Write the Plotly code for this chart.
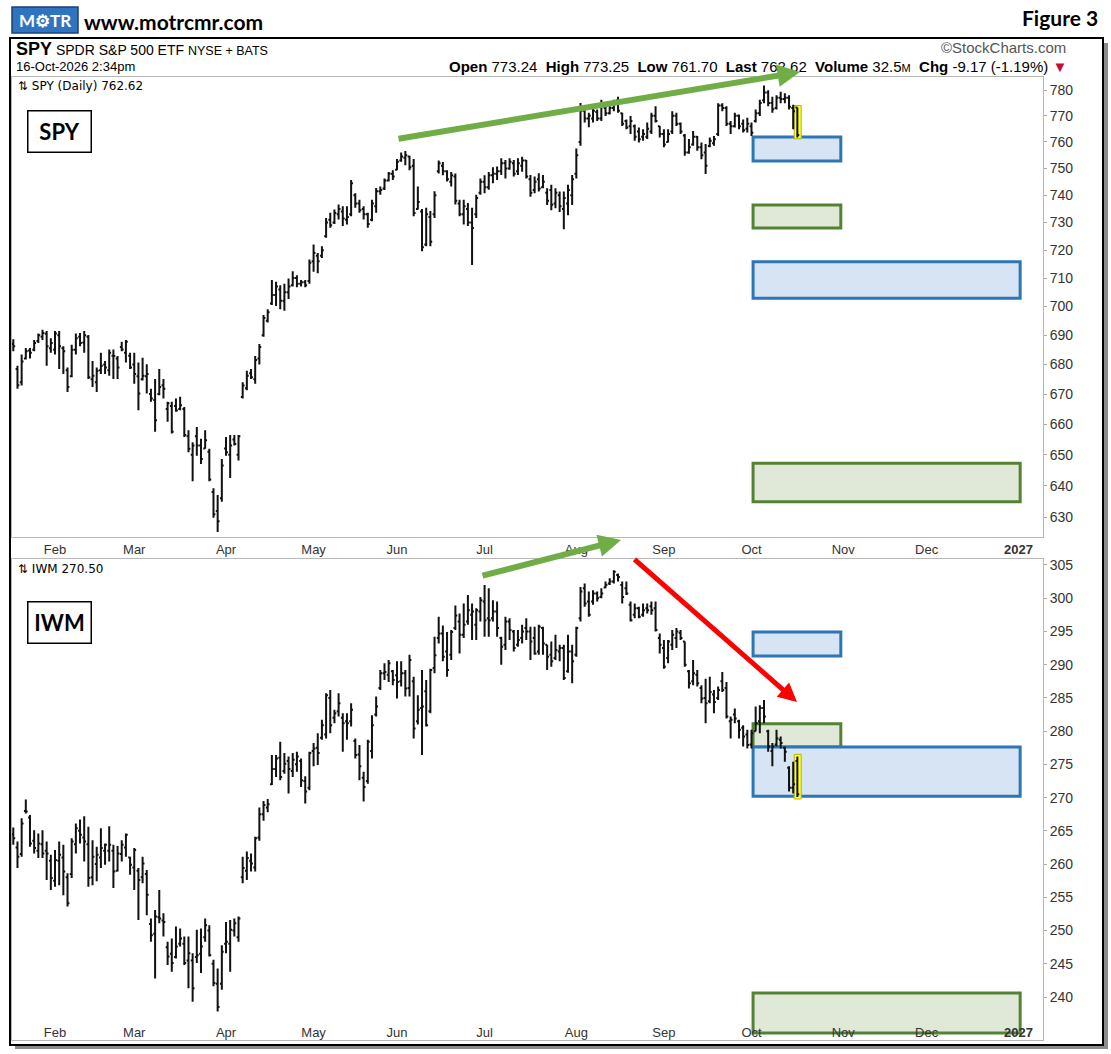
import numpy as np
import pandas as pd
import plotly.graph_objects as go

# ---------------- data ----------------
HOLIDAYS = ["2026-01-19", "2026-02-16", "2026-04-03", "2026-05-25", "2026-06-19",
            "2026-07-03", "2026-09-07", "2026-11-26", "2026-12-25", "2027-01-01"]
dates = pd.bdate_range("2026-01-16", "2026-10-16", freq="C", holidays=HOLIDAYS)

month_ticks = ["2026-02-02", "2026-03-02", "2026-04-01", "2026-05-01", "2026-06-01", "2026-07-01",
               "2026-08-03", "2026-09-01", "2026-10-01", "2026-11-02", "2026-12-01", "2027-01-04"]
month_labels = ["Feb", "Mar", "Apr", "May", "Jun", "Jul", "Aug", "Sep", "Oct", "Nov", "Dec", "<b>2027</b>"]

spy_ticks = [630, 640, 650, 660, 670, 680, 690, 700, 710, 720, 730, 740, 750, 760, 770, 780]
iwm_ticks = [240, 245, 250, 255, 260, 265, 270, 275, 280, 285, 290, 295, 300, 305]

spy_open = [687.0, 678.5, 674.0, 682.0, 684.8, 685.0, 688.0, 689.5, 690.5, 685.5,
 685.0, 690.0, 685.5, 678.0, 676.0, 685.0, 689.5, 687.5, 689.5, 675.0,
 674.0, 678.0, 680.0, 678.0, 683.0, 682.0, 686.0, 684.0, 683.0, 680.0,
 676.0, 675.0, 676.0, 670.0, 668.0, 670.0, 673.0, 665.0, 666.0, 666.0,
 665.0, 665.0, 656.0, 650.0, 656.0, 653.0, 652.0, 651.0, 638.0, 632.0,
 636.0, 652.0, 650.0, 655.0, 650.0, 669.0, 672.0, 677.0, 675.0, 682.0,
 690.0, 695.0, 701.0, 704.0, 706.0, 702.0, 705.0, 707.5, 710.0, 708.0,
 708.5, 709.0, 716.0, 718.0, 718.0, 725.0, 731.0, 730.0, 733.0, 734.0,
 731.0, 733.0, 740.0, 737.0, 735.0, 733.0, 731.0, 736.0, 741.5, 742.5,
 745.5, 748.0, 749.5, 753.0, 754.0, 754.5, 751.0, 735.0, 734.0, 722.0,
 732.0, 733.0, 749.0, 751.0, 749.0, 745.0, 747.0, 737.0, 733.0, 735.0,
 730.0, 733.0, 741.0, 745.0, 743.0, 747.5, 748.0, 749.0, 752.0, 750.0,
 752.0, 749.0, 751.0, 753.0, 746.0, 742.0, 746.0, 743.0, 741.0, 742.0,
 737.0, 740.0, 735.0, 737.0, 740.0, 748.0, 760.0, 772.0, 769.0, 769.0,
 771.5, 769.0, 773.0, 771.0, 773.0, 776.0, 771.0, 768.0, 766.0, 766.0,
 764.0, 762.0, 762.0, 764.0, 770.0, 766.0, 763.0, 760.0, 764.0, 770.0,
 767.0, 762.5, 756.0, 759.0, 762.0, 758.0, 756.0, 758.5, 759.5, 763.0,
 774.0, 773.0, 767.0, 766.0, 770.0, 767.0, 765.0, 766.0, 768.0, 771.0,
 776.0, 779.0, 775.0, 773.0, 777.0, 776.5, 777.0, 773.0, 773.24]

spy_high = [688.6, 679.6, 683.4, 685.6, 685.6, 688.4, 690.6, 691.9, 691.5, 689.0,
 691.5, 691.5, 686.2, 679.0, 686.7, 690.6, 690.8, 691.5, 690.1, 681.2,
 679.0, 684.0, 681.2, 685.1, 685.1, 682.9, 687.8, 688.4, 684.0, 684.0,
 680.7, 682.3, 680.1, 671.8, 675.1, 678.5, 675.1, 667.4, 667.4, 668.5,
 669.1, 665.7, 658.0, 654.1, 659.1, 655.2, 658.0, 651.9, 639.2, 637.0,
 648.6, 655.8, 656.4, 656.4, 656.4, 674.0, 677.9, 678.5, 682.9, 687.0,
 697.0, 699.0, 709.3, 708.7, 707.5, 708.0, 709.9, 712.4, 711.0, 709.3,
 709.3, 716.6, 722.0, 719.0, 721.4, 731.7, 733.6, 734.8, 736.6, 736.0,
 736.0, 745.7, 740.8, 738.4, 736.0, 733.6, 738.4, 742.7, 743.3, 746.3,
 748.7, 749.3, 753.6, 756.0, 756.6, 754.8, 753.6, 743.3, 735.0, 735.4,
 734.2, 741.5, 753.0, 752.4, 749.3, 748.7, 748.1, 738.4, 738.4, 737.2,
 735.4, 740.2, 746.3, 747.5, 748.7, 750.5, 750.7, 753.8, 753.2, 753.8,
 753.2, 753.8, 754.4, 753.2, 747.6, 747.0, 748.2, 747.6, 742.6, 743.9,
 742.6, 741.4, 741.4, 743.9, 747.6, 757.5, 775.0, 773.7, 771.2, 773.1,
 772.4, 776.2, 774.3, 774.9, 776.2, 777.4, 771.2, 768.6, 769.9, 766.7,
 765.5, 764.9, 767.4, 771.2, 773.7, 766.1, 764.9, 764.9, 771.8, 771.2,
 767.4, 763.0, 761.1, 764.2, 762.3, 759.8, 759.2, 761.7, 762.3, 774.9,
 774.9, 773.7, 768.0, 771.2, 770.5, 768.6, 769.3, 767.4, 772.4, 776.2,
 781.8, 779.9, 777.4, 778.0, 779.3, 778.7, 778.0, 774.3, 773.25]

spy_low = [684.5, 671.8, 672.9, 681.7, 682.0, 684.5, 687.3, 688.4, 679.6, 684.0,
 683.4, 678.5, 676.8, 670.7, 675.7, 683.4, 686.2, 684.0, 675.1, 672.4,
 670.7, 676.8, 676.8, 676.2, 675.1, 675.1, 684.5, 680.7, 678.5, 673.5,
 664.6, 674.6, 670.2, 667.4, 657.5, 669.6, 668.5, 660.8, 656.9, 664.1,
 664.6, 655.8, 650.8, 641.4, 649.7, 647.0, 651.9, 641.4, 629.8, 625.4,
 634.9, 649.7, 642.5, 653.0, 648.1, 668.5, 671.3, 675.1, 673.5, 680.0,
 689.5, 694.4, 700.5, 700.2, 699.0, 698.5, 702.6, 707.0, 706.8, 707.0,
 706.8, 708.0, 712.3, 711.7, 717.2, 724.5, 728.1, 729.5, 731.1, 728.7,
 729.3, 732.3, 735.4, 733.6, 731.1, 728.1, 730.5, 733.6, 740.2, 742.0,
 745.1, 745.7, 749.3, 752.5, 751.2, 749.3, 732.3, 734.8, 719.6, 721.4,
 721.4, 731.7, 748.1, 747.5, 745.1, 743.3, 736.6, 732.3, 729.3, 728.7,
 714.7, 731.7, 740.2, 740.8, 742.1, 744.5, 745.7, 747.6, 746.3, 749.5,
 747.0, 747.6, 748.8, 746.3, 739.5, 740.8, 741.4, 742.6, 736.4, 734.5,
 735.2, 733.9, 727.6, 732.7, 736.4, 746.3, 758.6, 767.4, 765.6, 767.4,
 768.0, 768.0, 769.9, 770.5, 771.8, 771.2, 766.1, 764.9, 763.0, 760.5,
 759.8, 760.5, 761.1, 763.0, 767.4, 761.7, 758.0, 759.8, 763.0, 766.1,
 763.0, 754.8, 755.5, 758.6, 756.7, 753.5, 747.9, 758.0, 758.6, 762.3,
 771.8, 766.1, 763.0, 765.5, 764.9, 763.6, 763.6, 762.3, 767.4, 769.9,
 774.9, 773.7, 771.2, 772.4, 774.9, 774.9, 772.4, 764.9, 761.70]

spy_close = [686.2, 673.0, 681.0, 684.5, 684.0, 687.3, 690.0, 690.8, 686.2, 687.3,
 690.6, 686.2, 684.5, 672.4, 685.0, 689.0, 687.3, 690.0, 675.7, 676.2,
 677.9, 679.6, 679.0, 684.0, 682.9, 679.0, 685.1, 687.8, 679.0, 676.8,
 670.2, 676.2, 676.8, 668.5, 661.3, 672.4, 671.8, 666.9, 657.5, 664.5,
 666.3, 656.4, 651.9, 653.0, 653.0, 648.6, 654.7, 642.0, 630.9, 628.7,
 646.5, 650.8, 653.0, 653.5, 656.0, 672.9, 676.2, 675.7, 681.5, 686.0,
 696.0, 698.0, 704.0, 707.0, 702.0, 705.0, 707.0, 710.0, 708.0, 708.5,
 707.5, 715.5, 719.0, 716.0, 720.0, 730.0, 729.0, 733.5, 735.0, 731.5,
 732.0, 744.5, 737.0, 734.5, 733.0, 729.5, 737.0, 741.5, 742.0, 745.5,
 748.0, 747.0, 752.5, 754.5, 755.0, 750.5, 733.5, 737.5, 721.0, 733.0,
 723.0, 740.0, 752.0, 749.0, 746.0, 747.5, 738.0, 733.0, 736.0, 730.0,
 728.0, 739.0, 745.0, 743.0, 747.5, 748.0, 749.0, 752.0, 750.0, 752.5,
 748.0, 752.0, 753.0, 747.0, 741.0, 745.0, 742.5, 745.0, 738.0, 736.5,
 741.0, 736.0, 739.0, 742.0, 746.0, 755.0, 772.0, 769.0, 770.0, 772.0,
 769.0, 774.0, 771.0, 773.0, 775.0, 772.0, 767.0, 765.5, 768.0, 762.0,
 761.0, 763.0, 765.0, 770.0, 768.0, 763.0, 759.0, 763.0, 770.0, 767.0,
 764.0, 756.0, 758.0, 762.0, 758.0, 755.0, 751.0, 760.5, 761.0, 774.0,
 773.0, 767.0, 766.0, 770.0, 766.0, 764.5, 767.0, 763.5, 771.0, 775.0,
 779.0, 775.0, 772.5, 777.0, 776.5, 777.0, 773.5, 771.79, 762.62]

iwm_open = [264.5, 262.5, 261.5, 268.0, 267.0, 263.5, 262.0, 263.0, 262.0, 260.5,
 257.5, 260.5, 261.0, 258.0, 258.5, 263.0, 265.0, 264.0, 263.0, 258.0,
 260.0, 261.0, 262.0, 262.0, 262.0, 259.0, 261.5, 262.5, 261.0, 259.5,
 259.0, 258.0, 258.5, 251.0, 249.5, 252.0, 251.5, 247.5, 246.5, 246.0,
 248.0, 248.0, 245.5, 245.5, 246.0, 246.5, 249.0, 250.0, 245.0, 242.0,
 242.0, 248.0, 248.0, 250.0, 249.0, 258.0, 259.0, 260.5, 259.5, 264.0,
 267.5, 268.5, 272.0, 274.3, 276.0, 274.0, 275.5, 274.0, 275.0, 275.5,
 272.5, 271.5, 277.0, 277.5, 279.0, 279.5, 285.0, 282.0, 283.0, 282.0,
 281.5, 281.5, 278.5, 276.5, 273.0, 272.5, 277.0, 282.5, 286.5, 288.7,
 288.5, 289.0, 288.4, 287.5, 288.7, 286.5, 287.5, 281.5, 283.5, 286.0,
 283.0, 289.5, 294.0, 294.7, 292.0, 291.5, 295.5, 296.5, 294.5, 296.5,
 297.5, 296.0, 298.0, 299.5, 297.0, 297.0, 298.0, 294.0, 293.0, 296.5,
 295.0, 293.0, 294.0, 295.5, 295.0, 294.0, 292.0, 295.5, 293.0, 291.5,
 291.0, 292.0, 292.5, 289.0, 292.0, 291.5, 297.0, 301.5, 299.5, 299.5,
 300.7, 300.2, 301.6, 302.2, 302.5, 303.5, 302.0, 301.5, 299.0, 297.5,
 298.5, 297.5, 298.5, 298.8, 298.5, 294.0, 292.5, 291.0, 293.0, 294.0,
 294.8, 293.5, 289.0, 287.5, 288.5, 286.5, 285.0, 284.5, 285.5, 285.0,
 287.5, 286.5, 281.5, 282.5, 281.5, 280.5, 279.5, 278.0, 280.0, 281.5,
 283.5, 280.0, 277.0, 278.0, 278.7, 277.5, 274.5, 271.5, 275.5]

iwm_high = [265.5, 263.4, 266.9, 269.7, 267.4, 265.1, 264.6, 265.1, 263.4, 261.4,
 262.1, 263.4, 262.9, 258.6, 263.9, 266.1, 266.7, 267.2, 265.6, 263.6,
 262.6, 265.4, 263.1, 265.7, 262.9, 262.7, 263.6, 264.6, 261.1, 262.4,
 259.4, 261.1, 259.1, 251.8, 253.1, 256.1, 252.6, 248.3, 248.8, 250.6,
 250.3, 249.1, 249.1, 246.6, 250.1, 250.3, 251.8, 250.8, 245.6, 244.3,
 247.8, 251.3, 251.6, 251.8, 252.1, 261.1, 261.9, 261.6, 264.1, 268.5,
 269.5, 269.8, 276.4, 276.4, 278.4, 276.7, 276.2, 276.7, 276.9, 275.9,
 273.2, 276.9, 278.2, 279.7, 281.7, 285.7, 286.2, 283.2, 285.7, 282.7,
 282.7, 284.2, 278.9, 277.9, 273.9, 278.7, 282.4, 285.2, 289.2, 290.2,
 290.7, 289.2, 290.5, 290.5, 289.2, 291.5, 288.2, 285.4, 289.2, 287.7,
 289.4, 294.2, 297.2, 295.9, 294.9, 295.2, 298.9, 297.7, 299.2, 300.5,
 299.2, 298.5, 300.2, 302.0, 301.5, 299.7, 299.5, 294.2, 297.2, 297.0,
 295.2, 295.2, 296.0, 297.0, 295.7, 295.7, 296.0, 295.7, 293.0, 293.5,
 294.5, 293.0, 293.0, 294.5, 293.0, 295.7, 301.7, 302.2, 301.0, 301.2,
 301.0, 301.5, 302.5, 303.0, 304.2, 303.7, 302.5, 302.5, 299.5, 299.2,
 298.7, 299.2, 299.2, 299.5, 299.5, 294.7, 293.7, 293.7, 295.2, 295.5,
 295.2, 293.5, 289.2, 290.7, 289.2, 286.9, 287.9, 288.2, 286.2, 286.7,
 288.9, 287.4, 282.2, 283.4, 281.7, 280.9, 280.2, 280.2, 283.7, 283.9,
 284.7, 280.2, 278.2, 280.2, 279.2, 277.7, 274.7, 275.4, 276.2]

iwm_low = [262.9, 259.4, 261.1, 267.6, 262.6, 261.6, 260.9, 260.9, 257.6, 256.1,
 256.6, 256.8, 255.3, 253.6, 257.9, 261.6, 263.1, 260.4, 256.6, 256.8,
 257.4, 259.4, 259.9, 260.4, 256.4, 258.9, 260.4, 261.1, 258.4, 256.1,
 251.6, 257.1, 252.3, 248.3, 242.8, 251.1, 249.1, 244.8, 243.8, 245.8,
 247.6, 244.8, 241.3, 239.3, 245.1, 243.6, 248.3, 246.1, 241.6, 237.8,
 241.1, 246.6, 243.8, 249.1, 248.3, 257.1, 257.6, 258.9, 258.9, 263.5,
 266.5, 267.8, 271.9, 273.1, 272.6, 273.6, 270.6, 273.1, 273.9, 271.6,
 269.1, 271.1, 274.7, 274.9, 278.7, 278.9, 279.7, 281.2, 282.2, 276.9,
 278.7, 280.7, 275.9, 272.6, 269.4, 272.1, 275.9, 282.2, 286.2, 287.7,
 287.4, 286.9, 284.9, 286.7, 285.2, 285.2, 278.9, 281.0, 276.4, 280.7,
 282.7, 288.7, 293.2, 290.5, 288.2, 290.7, 295.2, 291.7, 294.0, 296.0,
 293.7, 293.7, 296.5, 294.2, 294.2, 296.5, 294.2, 290.0, 292.2, 293.7,
 292.0, 292.7, 293.2, 293.7, 290.7, 291.5, 291.5, 291.5, 289.2, 289.7,
 290.7, 290.5, 287.7, 288.8, 287.2, 291.2, 296.5, 298.7, 297.2, 299.0,
 299.5, 300.0, 301.5, 302.0, 302.2, 302.5, 299.2, 300.5, 296.5, 297.0,
 297.0, 297.2, 297.7, 297.5, 295.0, 291.7, 289.4, 290.2, 292.2, 292.5,
 293.7, 289.7, 286.4, 286.9, 286.7, 284.2, 281.2, 284.2, 282.7, 284.7,
 285.9, 281.9, 278.9, 281.2, 278.9, 277.7, 277.4, 277.4, 280.0, 279.7,
 281.2, 276.9, 274.7, 277.7, 277.4, 275.4, 270.9, 270.6, 270.1]

iwm_close = [263.9, 261.1, 266.1, 267.9, 263.1, 262.4, 263.1, 261.6, 261.6, 257.9,
 260.6, 261.4, 258.9, 254.1, 263.4, 265.4, 264.4, 263.4, 257.9, 261.1,
 261.4, 262.4, 262.9, 262.9, 258.9, 261.6, 262.9, 264.4, 259.9, 262.1,
 257.6, 260.1, 255.4, 249.3, 252.1, 251.8, 251.3, 246.1, 245.1, 247.6,
 248.8, 245.1, 246.6, 241.3, 246.3, 247.6, 250.8, 246.3, 242.1, 238.5,
 246.8, 248.3, 250.1, 251.1, 251.8, 259.4, 260.9, 260.1, 263.9, 267.5,
 268.9, 269.0, 274.3, 275.9, 273.1, 275.1, 274.3, 275.7, 276.2, 272.6,
 270.9, 276.7, 277.4, 276.7, 280.9, 285.4, 280.9, 282.7, 284.2, 281.2,
 281.2, 283.2, 276.4, 274.7, 271.6, 278.4, 280.9, 283.7, 288.7, 288.9,
 290.2, 287.7, 287.4, 288.7, 286.4, 290.7, 280.4, 283.2, 283.7, 280.9,
 289.2, 291.4, 294.7, 291.2, 289.2, 294.9, 297.4, 294.5, 296.0, 298.2,
 298.0, 298.2, 299.7, 296.7, 296.7, 298.0, 295.5, 292.7, 296.5, 295.2,
 292.5, 293.7, 295.0, 295.0, 293.5, 291.7, 295.7, 293.2, 291.2, 290.5,
 292.2, 292.5, 288.0, 292.0, 290.5, 295.5, 301.0, 299.2, 297.5, 300.7,
 300.0, 300.7, 302.0, 302.5, 304.0, 303.2, 300.2, 300.7, 296.7, 298.5,
 297.2, 298.2, 298.2, 298.2, 295.2, 293.0, 289.7, 293.5, 294.5, 295.0,
 294.0, 290.0, 287.2, 288.7, 287.2, 284.9, 284.2, 285.9, 284.4, 286.2,
 286.2, 282.2, 281.7, 281.9, 280.2, 279.2, 277.9, 279.7, 281.2, 283.5,
 282.2, 277.7, 277.7, 278.9, 278.2, 276.9, 271.5, 272.0, 270.5]

# price zones drawn on the chart (low, high)
spy_zones = [("blue", 752.8, 761.9, "short"), ("green", 728.0, 736.4, "short"),
             ("blue", 702.9, 715.8, "long"), ("green", 634.9, 647.2, "long")]
iwm_zones = [("blue", 291.3, 294.9, "short"), ("green", 277.6, 281.1, "short"),
             ("blue", 270.2, 277.6, "long"), ("green", 234.6, 240.6, "long")]

for a in (spy_open, spy_high, spy_low, spy_close, iwm_open, iwm_high, iwm_low, iwm_close):
    assert len(a) == len(dates), len(a)

# ---------------- layout helpers ----------------
W, H = 1111, 1054
ML, MR, MT, MB = 12, 68, 77, 14
PW, PH = W - ML - MR, H - MT - MB


def px(x):
    return (x - ML) / PW


def py(y):
    return (H - MB - y) / PH


XR = ["2026-01-15 16:30", "2027-01-11 21:30"]
ZONE_X0 = "2026-10-01 09:00"
ZONE_X1 = {"short": "2026-10-30 10:00", "long": "2027-01-04 10:00"}
FILL = {"blue": "#d7e4f3", "green": "#e0e9d8"}
EDGE = {"blue": "#2e75b6", "green": "#548235"}

BAR = "#111111"
fig = go.Figure()
fig.add_trace(go.Ohlc(x=dates, open=spy_open, high=spy_high, low=spy_low, close=spy_close,
                      xaxis="x", yaxis="y", tickwidth=0.45, hoverinfo="skip", showlegend=False,
                      increasing=dict(line=dict(color=BAR, width=2)),
                      decreasing=dict(line=dict(color=BAR, width=2))))
fig.add_trace(go.Ohlc(x=dates, open=iwm_open, high=iwm_high, low=iwm_low, close=iwm_close,
                      xaxis="x2", yaxis="y2", tickwidth=0.45, hoverinfo="skip", showlegend=False,
                      increasing=dict(line=dict(color=BAR, width=2)),
                      decreasing=dict(line=dict(color=BAR, width=2))))

xcommon = dict(type="date", range=XR,
               rangebreaks=[dict(bounds=["sat", "mon"]), dict(values=HOLIDAYS)],
               tickmode="array", tickvals=month_ticks, ticktext=month_labels,
               showgrid=False, zeroline=False, showline=True, mirror=True,
               linecolor="#b8b8b8", linewidth=1, ticks="",
               tickfont=dict(family="Liberation Sans, Arial", size=13, color="#333"),
               rangeslider=dict(visible=False), fixedrange=True)
ycommon = dict(side="right", showgrid=False, zeroline=False, showline=True, mirror=True,
               linecolor="#b8b8b8", linewidth=1, ticks="outside", ticklen=3, tickcolor="#aaa",
               tickfont=dict(family="Liberation Sans, Arial", size=14, color="#333"),
               tickmode="array", fixedrange=True)

shapes = []
# outer frame with shadow
shapes.append(dict(type="rect", xref="paper", yref="paper", x0=px(1103), x1=px(1108), y0=py(43), y1=py(1049),
                   fillcolor="#8c8c8c", line=dict(width=0), layer="below"))
shapes.append(dict(type="rect", xref="paper", yref="paper", x0=px(15), x1=px(1108), y0=py(1045), y1=py(1049),
                   fillcolor="#8c8c8c", line=dict(width=0), layer="below"))
shapes.append(dict(type="rect", xref="paper", yref="paper", x0=px(10), x1=px(1103), y0=py(38), y1=py(1045),
                   fillcolor="rgba(0,0,0,0)", line=dict(color="#000", width=2)))
# logo box
shapes.append(dict(type="rect", xref="paper", yref="paper", x0=px(12), x1=px(78), y0=py(7), y1=py(33),
                   fillcolor="#2f74c0", line=dict(color="#1f3f73", width=1.5)))

for color, lo, hi, kind in spy_zones:
    shapes.append(dict(type="rect", xref="x", yref="y", x0=ZONE_X0, x1=ZONE_X1[kind],
                       y0=lo, y1=hi, fillcolor=FILL[color],
                       line=dict(color=EDGE[color], width=3), layer="below"))
for color, lo, hi, kind in iwm_zones:
    shapes.append(dict(type="rect", xref="x2", yref="y2", x0=ZONE_X0, x1=ZONE_X1[kind],
                       y0=lo, y1=hi, fillcolor=FILL[color],
                       line=dict(color=EDGE[color], width=3), layer="below"))
# yellow highlight of the last bar
shapes.append(dict(type="rect", xref="x", yref="y", x0="2026-10-15 06:00", x1="2026-10-16 22:00",
                   y0=761.2, y1=774.0, fillcolor="#ffff33",
                   line=dict(color="#b5b500", width=1), layer="below"))
shapes.append(dict(type="rect", xref="x2", yref="y2", x0="2026-10-15 06:00", x1="2026-10-16 22:00",
                   y0=269.8, y1=276.5, fillcolor="#ffff33",
                   line=dict(color="#b5b500", width=1), layer="below"))

ann = []


def text(x, y, s, size=12, color="#000", xanchor="left", family="Liberation Sans, Arial", yanchor="middle"):
    ann.append(dict(xref="paper", yref="paper", x=px(x), y=py(y), text=s, showarrow=False,
                    xanchor=xanchor, yanchor=yanchor, font=dict(size=size, color=color, family=family)))


text(45, 20, "<b>M\u2699TR</b>", size=17, color="#ffffff", family="Lato, Open Sans", xanchor="center")
text(82, 21, "<b>www.motrcmr.com</b>", size=21, family="Lato, Open Sans")
text(1100, 18, "<b>Figure 3</b>", size=21, xanchor="right", family="Lato, Open Sans")
text(14, 49, "<b><span style='font-size:18px'>SPY</span></b> SPDR S&P 500 ETF "
             "<span style='font-size:12.5px'>NYSE + BATS</span>", size=14)
text(14, 67, "16-Oct-2026 2:34pm", size=13)
text(1068, 48, "\u00a9StockCharts.com", size=15, color="#555", xanchor="right")
text(1069, 67, "<b>Open</b> 773.24  <b>High</b> 773.25  <b>Low</b> 761.70  <b>Last</b> 762.62  "
               "<b>Volume</b> 32.5<span style='font-size:11px'>M</span>  <b>Chg</b> -9.17 (-1.19%) "
               "<span style='color:#c0103a'>\u25bc</span>", size=15, xanchor="right")
text(16, 86, "\u21c5 SPY (Daily) 762.62", size=12, family="DejaVu Sans")
text(16, 569, "\u21c5 IWM 270.50", size=12, family="DejaVu Sans")

for label, cy in (("SPY", 131), ("IWM", 622)):
    ann.append(dict(xref="paper", yref="paper", x=px(59.5), y=py(cy), text="<b>%s</b>" % label,
                    showarrow=False, xanchor="center", yanchor="middle", width=62, height=40,
                    bgcolor="#fff", bordercolor="#000", borderwidth=1.5, borderpad=0,
                    font=dict(size=22, color="#000", family="Lato, Open Sans")))


def arrow(tail, head, color, width):
    ann.append(dict(xref="paper", yref="paper", x=px(head[0]), y=py(head[1]), text="",
                    showarrow=True, ax=tail[0] - head[0], ay=tail[1] - head[1],
                    arrowcolor=color, arrowwidth=width, arrowhead=2, arrowsize=0.75, standoff=0))


arrow((397, 139), (800, 72), "#70ad47", 6)
arrow((481, 576), (621, 540), "#70ad47", 6)
arrow((633, 558), (797, 702), "#ff0000", 5)

fig.update_layout(
    width=W, height=H, margin=dict(l=ML, r=MR, t=MT, b=MB),
    paper_bgcolor="#ffffff", plot_bgcolor="#ffffff", showlegend=False,
    xaxis=dict(xcommon, domain=[0, 1], anchor="y"),
    xaxis2=dict(xcommon, domain=[0, 1], anchor="y2", ticklabelposition="inside"),
    yaxis=dict(ycommon, type="log", domain=[py(537), 1],
               range=[np.log10(623.8), np.log10(785.1)], tickvals=spy_ticks, anchor="x"),
    yaxis2=dict(ycommon, domain=[0, py(559)], range=[233.53, 305.9], tickvals=iwm_ticks, anchor="x2"),
    shapes=shapes, annotations=ann,
)

fig.write_html("out.html")
